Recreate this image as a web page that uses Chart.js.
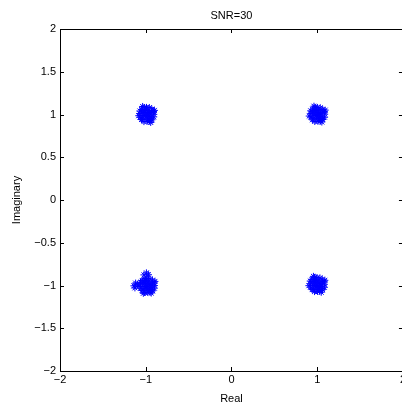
<!DOCTYPE html>
<html>
<head>
<meta charset="utf-8">
<script src="https://cdn.jsdelivr.net/npm/chart.js@4"></script>
<style>
  html, body { margin: 0; padding: 0; background: #fff; overflow: hidden; }
  #wrap { width: 402px; height: 410px; overflow: hidden; }
</style>
</head>
<body>
<div id="wrap"><canvas id="constellation" width="408" height="410"></canvas></div>
<script>
// received symbols, one cluster per quadrant
const q1Re = [1.005, 1.035, 0.976, 1.016, 0.994, 1.047, 0.963, 1.026, 0.983, 1.066, 0.945, 1.057, 0.954, 1.002, 1.008, 1.087, 0.926, 1.064, 0.947, 1.063, 0.944, 1.036, 0.973, 1.037, 0.972, 1.084, 1.086, 0.924, 0.927, 1.024, 0.986, 1.033, 0.974, 1.013, 0.993, 1.093, 0.962, 1.054, 0.907];
const q1Im = [1.000, 1.012, 1.021, 1.042, 0.968, 0.981, 0.991, 0.952, 1.061, 1.028, 1.033, 0.948, 0.951, 1.082, 0.921, 1.004, 1.012, 1.058, 1.061, 0.942, 0.938, 1.079, 1.084, 0.922, 0.918, 1.032, 0.968, 1.043, 0.971, 1.022, 0.989, 0.978, 1.041, 0.939, 1.052, 1.051, 1.097, 0.912, 0.982];

const q2Re = [-0.988, -0.957, -1.019, -0.977, -0.998, -0.946, -1.028, -0.967, -1.009, -0.929, -1.047, -0.936, -1.039, -0.991, -0.985, -0.906, -1.069, -0.929, -1.048, -0.927, -1.049, -0.958, -1.019, -0.955, -1.021, -0.909, -0.907, -1.068, -1.067, -0.969, -1.008, -0.961, -1.017, -0.979, -1.001, -0.899, -1.036, -0.942, -1.081];
const q2Im = [1.003, 1.014, 1.022, 1.041, 0.971, 0.979, 0.988, 0.949, 1.062, 1.031, 1.029, 0.951, 0.948, 1.083, 0.919, 1.002, 1.011, 1.063, 1.059, 0.938, 0.941, 1.081, 1.082, 0.922, 0.917, 1.034, 0.972, 1.041, 0.968, 1.024, 0.991, 0.981, 1.043, 0.938, 1.054, 1.048, 1.094, 0.907, 0.986];

const q3Re = [-0.981, -0.951, -1.012, -0.969, -0.992, -0.938, -1.021, -0.958, -1.003, -0.921, -1.041, -0.929, -1.032, -0.982, -0.977, -0.899, -1.062, -0.922, -1.041, -0.919, -1.042, -0.951, -1.011, -0.948, -1.013, -0.902, -0.899, -1.061, -1.058, -0.962, -1.001, -0.953, -1.009, -0.972, -0.993, -0.893, -1.028, -0.936, -1.079, -1.138, -1.118, -1.126, -1.098, -0.992, -0.968, -1.021];
const q3Im = [-1.002, -0.988, -0.979, -0.958, -1.031, -1.019, -1.013, -1.052, -0.941, -0.971, -0.968, -1.049, -1.053, -0.917, -1.081, -1.001, -0.992, -0.938, -0.941, -1.062, -1.058, -0.921, -0.919, -1.079, -1.082, -0.968, -1.031, -0.961, -1.033, -0.979, -1.012, -1.021, -0.961, -1.062, -0.949, -0.952, -1.091, -1.088, -1.011, -1.004, -0.972, -1.028, -0.985, -0.852, -0.874, -0.876];

const q4Re = [1.002, 1.031, 0.972, 1.012, 0.991, 1.043, 0.958, 1.021, 0.979, 1.061, 0.941, 1.052, 0.948, 0.998, 1.004, 1.083, 0.921, 1.058, 0.939, 1.062, 0.941, 1.032, 0.968, 1.029, 0.969, 1.081, 1.084, 0.919, 0.922, 1.022, 0.982, 1.028, 0.971, 1.011, 0.989, 1.089, 0.956, 1.047, 0.903];
const q4Im = [-0.991, -0.976, -0.968, -0.948, -1.019, -1.008, -1.001, -1.041, -0.928, -0.959, -0.956, -1.037, -1.039, -0.907, -1.069, -0.986, -0.979, -0.927, -0.929, -1.049, -1.048, -0.911, -0.906, -1.068, -1.071, -0.956, -1.021, -0.948, -1.019, -0.968, -0.999, -1.011, -0.951, -1.048, -0.938, -0.939, -0.893, -1.079, -1.002];

const xTicks = [-2, -1, 0, 1, 2];
const yTicks = [-2, -1.5, -1, -0.5, 0, 0.5, 1, 1.5, 2];

const toPoints = (re, im) => re.map((v, i) => ({x: v, y: im[i]}));
const points = [].concat(
  toPoints(q1Re, q1Im), toPoints(q2Re, q2Im),
  toPoints(q3Re, q3Im), toPoints(q4Re, q4Im)
);

const minus = v => String(v).replace("-", "\u2212");

// matlab style box with inward ticks
const frame = {
  id: "frame",
  afterDraw(chart) {
    const {ctx, chartArea: a, scales: {x, y}} = chart;
    ctx.save();
    ctx.strokeStyle = "#000";
    ctx.lineWidth = 1;
    ctx.strokeRect(a.left + 0.5, a.top + 0.5, a.right - a.left, a.bottom - a.top);
    ctx.beginPath();
    x.ticks.forEach(t => {
      const px = Math.round(x.getPixelForValue(t.value)) + 0.5;
      ctx.moveTo(px, a.bottom); ctx.lineTo(px, a.bottom - 4);
      ctx.moveTo(px, a.top); ctx.lineTo(px, a.top + 4);
    });
    y.ticks.forEach(t => {
      const py = Math.round(y.getPixelForValue(t.value)) + 0.5;
      ctx.moveTo(a.left, py); ctx.lineTo(a.left + 4, py);
      ctx.moveTo(a.right, py); ctx.lineTo(a.right - 4, py);
    });
    ctx.stroke();
    ctx.restore();
  }
};

Chart.defaults.font.family = "'Liberation Sans', Arial, sans-serif";
Chart.defaults.font.size = 11;
Chart.defaults.color = "#000";

new Chart(document.getElementById("constellation"), {
  type: "scatter",
  data: {
    datasets: [{
      data: points,
      pointStyle: "star",
      pointRadius: 3.5,
      borderWidth: 1,
      borderColor: "#0000ff",
      backgroundColor: "#0000ff"
    }]
  },
  options: {
    responsive: false,
    animation: false,
    events: [],
    layout: {padding: 0},
    plugins: {
      legend: {display: false},
      tooltip: {enabled: false},
      title: {
        display: true,
        text: "SNR=30",
        fullSize: false,
        font: {size: 11, weight: "normal"},
        padding: {top: 9, bottom: 6.8}
      }
    },
    scales: {
      x: {
        type: "linear",
        min: -2, max: 2,
        afterBuildTicks: s => { s.ticks = xTicks.map(v => ({value: v})); },
        afterFit: s => { s.height = 39; },
        grid: {display: false, drawTicks: false},
        border: {display: false},
        ticks: {padding: 2, maxRotation: 0, autoSkip: false, callback: minus},
        title: {display: true, text: "Real", font: {size: 11}, padding: {top: 0, bottom: 4.8}}
      },
      y: {
        type: "linear",
        min: -2, max: 2,
        afterBuildTicks: s => { s.ticks = yTicks.map(v => ({value: v})); },
        afterFit: s => { s.width = 60; },
        grid: {display: false, drawTicks: false},
        border: {display: false},
        ticks: {padding: 4, autoSkip: false, callback: minus},
        title: {display: true, text: "Imaginary", font: {size: 11}, padding: {top: 10, bottom: 0}}
      }
    }
  },
  plugins: [frame]
});
</script>
</body>
</html>
